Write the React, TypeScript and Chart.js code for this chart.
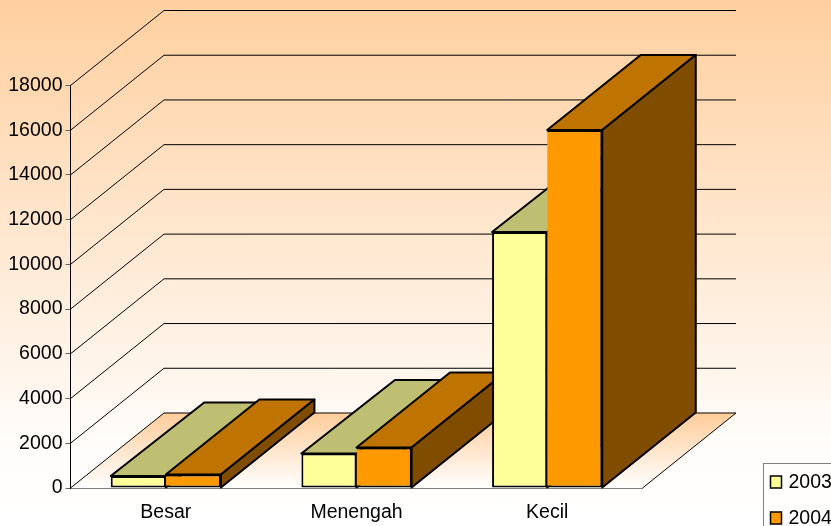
import React, { useEffect, useRef } from "react";
import { Chart, registerables } from "chart.js";

Chart.register(...registerables);

const categories = ["Besar", "Menengah", "Kecil"];
const values2003 = [540, 1540, 11450];
const values2004 = [600, 1810, 16010];
const seriesNames = ["2003", "2004"];
const frontColors = ["#FFFF99", "#FF9900"];
const topColors = ["#BFBF73", "#BF7300"];
const sideColors = ["#808049", "#804D00"];

const DX = 93.5;
const DY = -75;
const BAR_DY = [-73.5, -75];
const FAMILY = "'Liberation Sans', Arial, sans-serif";
const FONT = "19.5px " + FAMILY;

function poly(ctx: CanvasRenderingContext2D, pts: number[][]) {
  ctx.beginPath();
  pts.forEach((p, i) => (i ? ctx.lineTo(p[0], p[1]) : ctx.moveTo(p[0], p[1])));
  ctx.closePath();
}

const depthPlugin = {
  id: "depth",
  beforeDatasetsDraw(chart: any) {
    const { ctx, chartArea, scales } = chart;
    const { left, right, bottom } = chartArea;
    ctx.save();
    // floor
    const g = ctx.createLinearGradient(0, bottom + DY, 0, bottom);
    g.addColorStop(0, "#FFCC99");
    g.addColorStop(1, "#FFFFFF");
    poly(ctx, [
      [left, bottom],
      [left + DX, bottom + DY],
      [right + DX, bottom + DY],
      [right, bottom],
    ]);
    ctx.fillStyle = g;
    ctx.fill();
    // wall lines
    ctx.strokeStyle = "#000000";
    ctx.lineWidth = 1;
    scales.y.ticks.forEach((t: any) => {
      const y = scales.y.getPixelForValue(t.value);
      ctx.beginPath();
      ctx.moveTo(left, y);
      ctx.lineTo(left + DX, y + DY);
      ctx.lineTo(right + DX, y + DY);
      ctx.stroke();
    });
    ctx.beginPath();
    ctx.moveTo(right + DX, bottom + DY);
    ctx.lineTo(right, bottom);
    ctx.stroke();
    // bar depth faces, category by category
    ctx.lineWidth = 2;
    ctx.lineJoin = "round";
    categories.forEach((_, c) => {
      chart.data.datasets.forEach((_d: any, s: number) => {
        const el = chart.getDatasetMeta(s).data[c];
        const x0 = el.x - el.width / 2;
        const x1 = el.x + el.width / 2;
        const yt = el.y;
        const yb = el.base;
        const dy = BAR_DY[s];
        poly(ctx, [
          [x0, yt],
          [x0 + DX, yt + dy],
          [x1 + DX, yt + dy],
          [x1, yt],
        ]);
        ctx.fillStyle = topColors[s];
        ctx.fill();
        ctx.stroke();
        poly(ctx, [
          [x1, yt],
          [x1 + DX, yt + dy],
          [x1 + DX, yb + dy],
          [x1, yb],
        ]);
        ctx.fillStyle = sideColors[s];
        ctx.fill();
        ctx.stroke();
      });
    });
    ctx.restore();
  },
  afterDraw(chart: any) {
    const { ctx } = chart;
    ctx.save();
    ctx.strokeStyle = "#808080";
    ctx.lineWidth = 1;
    ctx.strokeRect(763.5, 463.5, 90, 90);
    ctx.font = FONT;
    ctx.textBaseline = "middle";
    chart.data.datasets.forEach((d: any, i: number) => {
      const y = 482 + i * 36;
      ctx.fillStyle = d.backgroundColor;
      ctx.fillRect(770.5, y - 6, 11, 12);
      ctx.lineWidth = 1.5;
      ctx.strokeStyle = "#000000";
      ctx.strokeRect(770.5, y - 6, 11, 12);
      ctx.fillStyle = "#000000";
      ctx.fillText(d.label, 788.5, y + 1);
    });
    ctx.restore();
  },
};

export default function App() {
  const ref = useRef<HTMLCanvasElement>(null);
  useEffect(() => {
    document.body.style.margin = "0";
    const chart = new Chart(ref.current!, {
      type: "bar",
      data: {
        labels: categories,
        datasets: [values2003, values2004].map((v, i) => ({
          label: seriesNames[i],
          data: v,
          backgroundColor: frontColors[i],
          borderColor: "#000000",
          borderWidth: 2,
          borderSkipped: i === 0 ? false : "left",
          barPercentage: 1,
          categoryPercentage: 0.578,
        })),
      },
      options: {
        responsive: false,
        animation: false,
        devicePixelRatio: 1,
        layout: { padding: { left: 0, right: 188.5, top: 85.5, bottom: 0 } },
        plugins: { legend: { display: false }, tooltip: { enabled: false } },
        scales: {
          x: {
            afterFit: (s: any) => {
              s.height = 38;
            },
            grid: { display: false },
            border: { color: "#808080", width: 1 },
            ticks: { color: "#000000", font: { family: FAMILY, size: 19.5 }, padding: 5 },
          },
          y: {
            min: 0,
            max: 18000,
            afterFit: (s: any) => {
              s.width = 70.5;
            },
            grid: { drawOnChartArea: false, color: "#666666", tickLength: 5 },
            border: { color: "#000000", width: 1 },
            ticks: {
              stepSize: 2000,
              color: "#000000",
              font: { family: FAMILY, size: 19.5 },
              padding: 3,
              callback: (v: any) => String(v),
            },
          },
        },
      },
      plugins: [depthPlugin],
    } as any);
    return () => chart.destroy();
  }, []);
  return (
    <div style={{ width: 831, height: 526, overflow: "hidden" }}>
      <canvas
        ref={ref}
        width={831}
        height={526}
        style={{ display: "block", background: "linear-gradient(180deg, #FFCF9F 0%, #FFFDFB 85%, #FFFFFF 100%)" }}
      />
    </div>
  );
}
